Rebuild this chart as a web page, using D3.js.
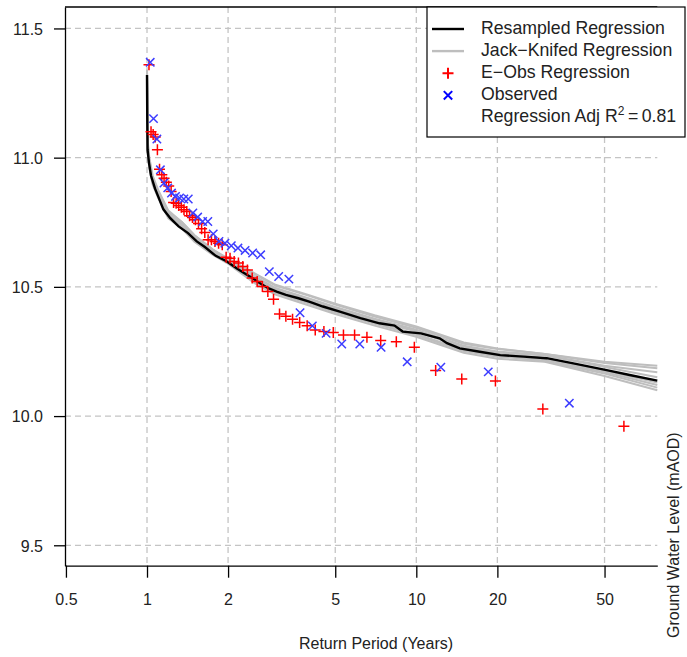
<!DOCTYPE html>
<html>
<head>
<meta charset="utf-8">
<script src="https://cdn.jsdelivr.net/npm/d3@7"></script>
<style>
    body { margin: 0; background: #ffffff; }
    svg { display: block; font-family: "Liberation Sans", Arial, sans-serif; }
</style>
</head>
<body>
<div id="chart"></div>
<script>
// Return period (years) ticks and water level ticks
const xTicks = [0.5, 1, 2, 5, 10, 20, 50];
const yTicks = [9.5, 10.0, 10.5, 11.0, 11.5];

// E-Obs regression, sorted high to low (plotting position T = 59 / rank)
const eobsLevels = [
    9.961, 10.027, 10.136, 10.143, 10.176, 10.266, 10.288, 10.292, 10.305, 10.314,
    10.314, 10.323, 10.327, 10.333, 10.350, 10.362, 10.375, 10.386, 10.395, 10.452,
    10.482, 10.501, 10.521, 10.534, 10.565, 10.579, 10.592, 10.598, 10.611, 10.615,
    10.663, 10.669, 10.676, 10.682, 10.682, 10.710, 10.725, 10.745, 10.760, 10.768,
    10.775, 10.792, 10.798, 10.808, 10.815, 10.824, 10.826, 10.869, 10.890, 10.905,
    10.920, 10.934, 10.955, 11.031, 11.080, 11.090, 11.100, 11.360
];
const eobsPeriods = [
    59.0, 29.5, 19.67, 14.75, 11.8, 9.833, 8.429, 7.375, 6.556, 5.9,
    5.364, 4.917, 4.538, 4.214, 3.933, 3.688, 3.471, 3.278, 3.105, 2.95,
    2.81, 2.682, 2.565, 2.458, 2.36, 2.269, 2.185, 2.107, 2.034, 1.967,
    1.903, 1.844, 1.788, 1.735, 1.686, 1.639, 1.595, 1.553, 1.513, 1.475,
    1.439, 1.405, 1.372, 1.341, 1.311, 1.283, 1.255, 1.229, 1.204, 1.18,
    1.157, 1.135, 1.113, 1.093, 1.073, 1.054, 1.035, 1.017
];

// Observed levels, sorted high to low (T = 37 / rank)
const obsLevels = [
    10.050, 10.171, 10.189, 10.210, 10.266, 10.279, 10.279, 10.320, 10.349, 10.400,
    10.530, 10.540, 10.559, 10.624, 10.631, 10.641, 10.650, 10.659, 10.669, 10.676,
    10.705, 10.753, 10.753, 10.770, 10.786, 10.840, 10.840, 10.844, 10.850, 10.863,
    10.883, 10.902, 10.953, 11.072, 11.151, 11.369
];
const obsPeriods = [
    37.0, 18.5, 12.33, 9.25, 7.4, 6.167, 5.286, 4.625, 4.111, 3.7,
    3.364, 3.083, 2.846, 2.643, 2.467, 2.313, 2.176, 2.056, 1.947, 1.85,
    1.762, 1.682, 1.609, 1.542, 1.48, 1.423, 1.37, 1.321, 1.276, 1.233,
    1.194, 1.156, 1.121, 1.088, 1.057, 1.028
];

// Resampled regression (black line)
const resampledPeriods = [
    1.0, 1.002, 1.005, 1.017, 1.035, 1.071, 1.10, 1.15, 1.22, 1.31,
    1.42, 1.53, 1.64, 1.80, 1.98, 2.15, 2.30, 2.46, 2.63, 2.82,
    3.03, 3.28, 3.65, 4.0, 4.5, 5.2, 6.2, 7.3, 8.3, 8.9,
    10.4, 12.2, 13.0, 14.5, 17.2, 20.5, 25.0, 30.5, 38.3, 50.9,
    62.0, 78.5
];
const resampledLevels = [
    11.32, 11.16, 11.03, 10.98, 10.93, 10.88, 10.85, 10.80, 10.766, 10.734,
    10.708, 10.676, 10.654, 10.62, 10.598, 10.572, 10.553, 10.534, 10.514, 10.495,
    10.482, 10.469, 10.456, 10.443, 10.424, 10.404, 10.379, 10.359, 10.350, 10.327,
    10.320, 10.301, 10.282, 10.262, 10.249, 10.236, 10.230, 10.224, 10.204, 10.178,
    10.159, 10.137
];

// Jack-knifed regressions (grey lines), all on the same periods
const jackPeriods = [1.0, 1.005, 1.02, 1.05, 1.1, 1.2, 1.35, 1.5, 1.75, 2, 2.5, 3, 4, 5, 7, 10, 15, 20, 30, 50, 78.5];
const jack1 = [11.34, 11.05, 10.98, 10.91, 10.86, 10.785, 10.745, 10.69, 10.64, 10.605, 10.55, 10.505, 10.465, 10.432, 10.385, 10.342, 10.28, 10.26, 10.24, 10.205, 10.185];
const jack2 = [11.33, 11.06, 10.99, 10.92, 10.865, 10.79, 10.745, 10.695, 10.64, 10.60, 10.542, 10.496, 10.455, 10.422, 10.377, 10.334, 10.272, 10.25, 10.235, 10.195, 10.17];
const jack3 = [11.31, 11.02, 10.96, 10.895, 10.845, 10.765, 10.725, 10.675, 10.625, 10.59, 10.515, 10.47, 10.428, 10.395, 10.35, 10.307, 10.245, 10.222, 10.21, 10.155, 10.10];
const jack4 = [11.33, 11.04, 10.975, 10.91, 10.86, 10.78, 10.74, 10.69, 10.638, 10.60, 10.538, 10.492, 10.452, 10.418, 10.373, 10.33, 10.268, 10.245, 10.235, 10.19, 10.15];
const jack5 = [11.32, 11.03, 10.965, 10.90, 10.85, 10.772, 10.73, 10.682, 10.632, 10.595, 10.522, 10.476, 10.435, 10.402, 10.357, 10.314, 10.252, 10.23, 10.218, 10.17, 10.12];
const jack6 = [11.33, 11.05, 10.985, 10.915, 10.87, 10.79, 10.75, 10.70, 10.645, 10.61, 10.553, 10.508, 10.468, 10.435, 10.39, 10.347, 10.285, 10.262, 10.24, 10.21, 10.195];
const jack7 = [11.34, 11.07, 11.0, 10.93, 10.875, 10.795, 10.75, 10.70, 10.645, 10.605, 10.535, 10.49, 10.448, 10.415, 10.37, 10.327, 10.265, 10.243, 10.225, 10.175, 10.13];
const jack8 = [11.32, 11.04, 10.97, 10.905, 10.855, 10.775, 10.735, 10.685, 10.635, 10.60, 10.526, 10.48, 10.439, 10.406, 10.361, 10.318, 10.256, 10.234, 10.212, 10.165, 10.11];
const jackLines = [jack1, jack2, jack3, jack4, jack5, jack6, jack7, jack8];

const width = 687;
const height = 657;
const plot = { left: 65, right: 657.3, top: 7, bottom: 565.7 };

const svg = d3.select('#chart')
    .append('svg')
    .attr('width', width)
    .attr('height', height);

// Scales
const x = d3.scaleLog()
    .domain([0.496, 78.5])
    .range([plot.left, plot.right]);

const y = d3.scaleLinear()
    .domain([9.421, 11.583])
    .range([plot.bottom, plot.top]);

// Grid lines
const grid = svg.append('g')
    .attr('stroke', '#c4c4c4')
    .attr('stroke-width', 1.3)
    .attr('stroke-dasharray', '6,4');

grid.selectAll('.vgrid')
    .data(xTicks.filter(d => d > 0.5))
    .enter()
    .append('line')
    .attr('x1', d => x(d))
    .attr('x2', d => x(d))
    .attr('y1', plot.top)
    .attr('y2', plot.bottom);

grid.selectAll('.hgrid')
    .data(yTicks)
    .enter()
    .append('line')
    .attr('x1', plot.left)
    .attr('x2', plot.right)
    .attr('y1', d => y(d))
    .attr('y2', d => y(d));

// Lines
const line = d3.line()
    .x(d => x(d[0]))
    .y(d => y(d[1]));

svg.append('g')
    .selectAll('path')
    .data(jackLines)
    .enter()
    .append('path')
    .attr('d', vals => line(vals.map((v, i) => [jackPeriods[i], v])))
    .attr('fill', 'none')
    .attr('stroke', '#bebebe')
    .attr('stroke-width', 2);

svg.append('path')
    .attr('d', line(resampledLevels.map((v, i) => [resampledPeriods[i], v])))
    .attr('fill', 'none')
    .attr('stroke', '#000000')
    .attr('stroke-width', 2.4);

// Points
const plusPath = 'M-5.5,0H5.5M0,-5.5V5.5';
const crossPath = 'M-4.2,-4.2L4.2,4.2M-4.2,4.2L4.2,-4.2';

svg.append('g')
    .selectAll('path')
    .data(eobsLevels)
    .enter()
    .append('path')
    .attr('d', plusPath)
    .attr('transform', (d, i) => `translate(${x(eobsPeriods[i])},${y(d)})`)
    .attr('fill', 'none')
    .attr('stroke', '#ff0000')
    .attr('stroke-width', 1.5);

svg.append('g')
    .selectAll('path')
    .data(obsLevels)
    .enter()
    .append('path')
    .attr('d', crossPath)
    .attr('transform', (d, i) => `translate(${x(obsPeriods[i])},${y(d)})`)
    .attr('fill', 'none')
    .attr('stroke', '#3d3dff')
    .attr('stroke-width', 1.5);

// Axes
const xAxis = svg.append('g')
    .attr('transform', `translate(0,${plot.bottom})`)
    .call(d3.axisBottom(x)
        .tickValues(xTicks)
        .tickFormat(d3.format(''))
        .tickSize(12)
        .tickSizeOuter(0)
        .tickPadding(16));

const yAxis = svg.append('g')
    .attr('transform', `translate(${plot.left},0)`)
    .call(d3.axisLeft(y)
        .tickValues(yTicks)
        .tickFormat(d3.format('.1f'))
        .tickSize(11)
        .tickSizeOuter(0)
        .tickPadding(11));

[xAxis, yAxis].forEach(a => {
    a.selectAll('path, line').attr('stroke', '#000').attr('stroke-width', 1.3);
    a.selectAll('text')
        .style('font-size', '16px')
        .style('font-family', '"Liberation Sans", Arial, sans-serif')
        .attr('fill', '#222');
});
yAxis.selectAll('text').attr('dy', '0.36em');

// Top border
svg.append('line')
    .attr('x1', plot.left)
    .attr('x2', plot.right)
    .attr('y1', plot.top)
    .attr('y2', plot.top)
    .attr('stroke', '#000')
    .attr('stroke-width', 1.3);

// Axis titles
svg.append('text')
    .attr('x', 376)
    .attr('y', 649)
    .attr('text-anchor', 'middle')
    .style('font-size', '16px')
    .attr('fill', '#222')
    .text('Return Period (Years)');

svg.append('text')
    .attr('transform', 'translate(679,638) rotate(-90)')
    .attr('text-anchor', 'start')
    .style('font-size', '16px')
    .attr('fill', '#222')
    .text('Ground Water Level (mAOD)');

// Legend
const legend = svg.append('g');
legend.append('rect')
    .attr('x', 427)
    .attr('y', 7)
    .attr('width', 258)
    .attr('height', 130)
    .attr('fill', '#ffffff')
    .attr('stroke', '#000')
    .attr('stroke-width', 1.2);

const legendRows = [
    { label: 'Resampled Regression', kind: 'line', color: '#000000', w: 2.4 },
    { label: 'Jack\u2212Knifed Regression', kind: 'line', color: '#bebebe', w: 2.4 },
    { label: 'E\u2212Obs Regression', kind: 'plus', color: '#ff0000' },
    { label: 'Observed', kind: 'cross', color: '#0000ff' },
    { label: 'Regression Adj R', kind: 'none' }
];

legendRows.forEach((row, i) => {
    const cy = 29 + i * 22.1;
    if (row.kind === 'line') {
        legend.append('line')
            .attr('x1', 432).attr('x2', 464)
            .attr('y1', cy).attr('y2', cy)
            .attr('stroke', row.color)
            .attr('stroke-width', row.w);
    } else if (row.kind === 'plus' || row.kind === 'cross') {
        legend.append('path')
            .attr('d', row.kind === 'plus' ? plusPath : crossPath)
            .attr('transform', `translate(448,${cy})`)
            .attr('fill', 'none')
            .attr('stroke', row.color)
            .attr('stroke-width', 2);
    }
    const t = legend.append('text')
        .attr('x', 481)
        .attr('y', cy + 5)
        .style('font-size', '17.7px')
        .attr('fill', '#222')
        .text(row.label);
    if (row.kind === 'none') {
        t.append('tspan')
            .attr('dy', -7)
            .style('font-size', '12px')
            .text('2');
        t.append('tspan')
            .attr('dy', 7)
            .text('\u2009=\u20090.81');
    }
});
</script>
</body>
</html>
